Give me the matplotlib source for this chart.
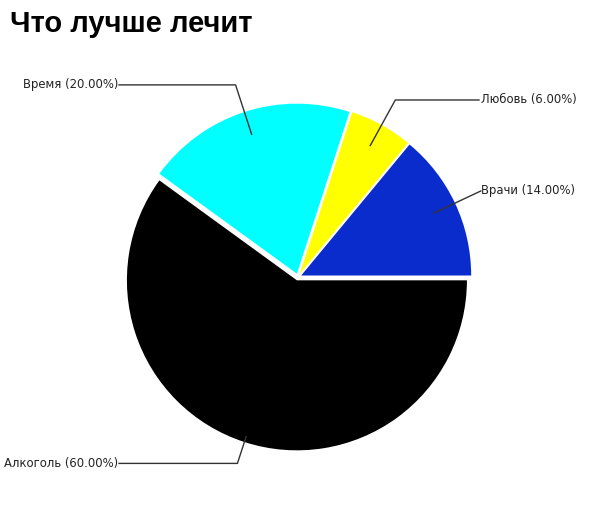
import numpy as np
import matplotlib.pyplot as plt

# data
labels = ["Врачи", "Любовь", "Время", "Алкоголь"]
values = [14.0, 6.0, 20.0, 60.0]
colors = ["#0a2ccc", "#ffff00", "#00ffff", "#000000"]

W, H = 600, 528
cx, cy = 298, H - 277
R = 170

fig = plt.figure(figsize=(6, 5.28), dpi=100)
ax = fig.add_axes([0, 0, 1, 1])

# explode is in data units here (pixels)
wedges, _ = ax.pie(values, colors=colors, startangle=0, counterclock=True,
                   radius=R, center=(cx, cy), explode=[3.5] * 4,
                   wedgeprops=dict(linewidth=0))
ax.set_xlim(0, W)
ax.set_ylim(0, H)
ax.set_aspect("equal")
ax.axis("off")

# leader lines + labels
total = sum(values)
start = 0.0
for lab, v in zip(labels, values):
    mid = np.deg2rad(start + v / total * 360 / 2)
    start += v / total * 360
    c, s = np.cos(mid), np.sin(mid)
    r0 = 150 if v < 50 else 168
    r1 = 202 if v < 50 else 196
    p0 = (cx + r0 * c, cy + r0 * s)
    p1 = (cx + r1 * c, cy + r1 * s)
    txt = "%s (%.2f%%)" % (lab, v)
    if c >= 0:
        xs = [p0[0], p1[0], max(p1[0], 479)]
        ha, tx = "left", 481
    else:
        xs = [p0[0], p1[0], 119]
        ha, tx = "right", 118
    ax.plot(xs, [p0[1], p1[1], p1[1]], color="#333333", lw=1)
    ax.text(tx, p1[1], txt, ha=ha, va="center", fontsize=8.4,
            family="DejaVu Sans", color="#222222")

fig.text(10 / W, 1 - 24 / H, "Что лучше лечит", fontsize=21, fontweight="bold",
         family="Liberation Sans", va="center", ha="left")

fig.savefig("out.png", dpi=100, facecolor="white")
